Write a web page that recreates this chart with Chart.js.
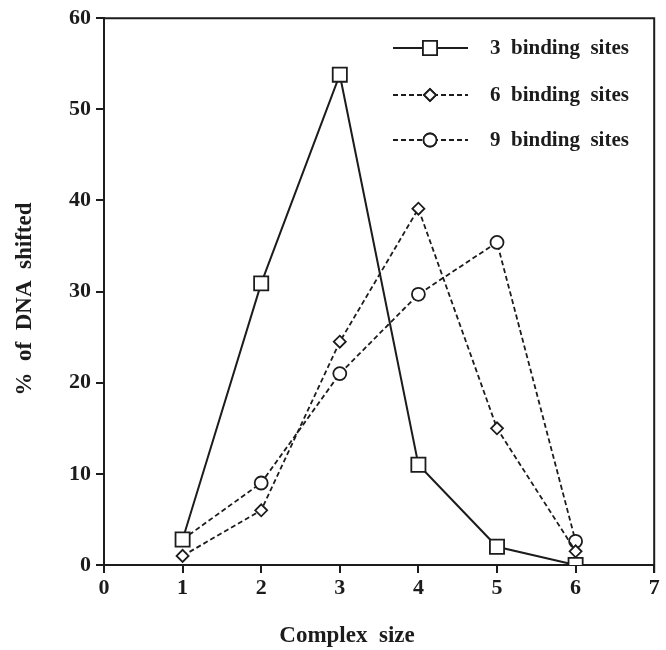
<!DOCTYPE html>
<html>
<head>
<meta charset="utf-8">
<script src="https://cdn.jsdelivr.net/npm/chart.js@4"></script>
<style>
  html, body { margin: 0; padding: 0; background: #fff; }
  #wrap { width: 666px; height: 650px; }
</style>
</head>
<body>
<div id="wrap"><canvas id="shiftChart"></canvas></div>
<script>
const complexSize = [1, 2, 3, 4, 5, 6];
const sites3 = [2.8, 30.9, 53.8, 11.0, 2.0, 0.0];
const sites6 = [1.0, 6.0, 24.5, 39.1, 15.0, 1.5];
const sites9 = [2.8, 9.0, 21.0, 29.7, 35.4, 2.6];
const seriesNames = ["3  binding  sites", "6  binding  sites", "9  binding  sites"];
const yTicks = [0, 10, 20, 30, 40, 50, 60];

const INK = "#1c1c1c";
const SERIF = "'Liberation Serif', 'Times New Roman', serif";

const toPoints = vals => vals.map((v, i) => ({ x: complexSize[i], y: v }));

const styles = [
  { pointStyle: "rect",    radius: 10,  dash: [],     width: 2 },
  { pointStyle: "rectRot", radius: 6,   dash: [5, 3], width: 1.8 },
  { pointStyle: "circle",  radius: 6.5, dash: [5, 3], width: 1.8 }
];

function dataset(label, vals, st) {
  return {
    label,
    data: toPoints(vals),
    borderColor: INK,
    borderWidth: st.width,
    borderDash: st.dash,
    tension: 0,
    pointStyle: st.pointStyle,
    pointRadius: st.radius,
    pointHoverRadius: st.radius,
    pointBackgroundColor: "#fff",
    pointBorderColor: INK,
    pointBorderWidth: 1.8
  };
}

// frame on top/right, axis titles and the boxed-in legend
const decorations = {
  id: "decorations",
  afterDraw(chart) {
    const { ctx, chartArea: a } = chart;
    ctx.save();
    ctx.strokeStyle = INK;
    ctx.lineWidth = 2;
    ctx.beginPath();
    ctx.moveTo(a.left, a.top);
    ctx.lineTo(a.right, a.top);
    ctx.lineTo(a.right, a.bottom + 8);
    ctx.stroke();

    ctx.fillStyle = INK;
    ctx.font = "bold 23px " + SERIF;
    ctx.textAlign = "center";
    ctx.textBaseline = "middle";
    ctx.fillText("Complex  size", 347, 636);

    ctx.save();
    ctx.translate(25, 299);
    ctx.rotate(-Math.PI / 2);
    ctx.fillText("%  of  DNA  shifted", 0, 0);
    ctx.restore();

    const rows = [48, 95, 140];
    ctx.font = "bold 21px " + SERIF;
    ctx.textAlign = "left";
    rows.forEach((y, i) => {
      const st = styles[i];
      ctx.setLineDash(st.dash);
      ctx.lineWidth = st.width;
      ctx.beginPath();
      ctx.moveTo(393, y);
      ctx.lineTo(468, y);
      ctx.stroke();
      ctx.setLineDash([]);
      ctx.fillStyle = "#fff";
      ctx.lineWidth = 1.8;
      Chart.helpers.drawPoint(ctx, { pointStyle: st.pointStyle, radius: st.radius, rotation: 0, borderWidth: 1.8 }, 430, y);
      ctx.fill();
      ctx.stroke();
      ctx.fillStyle = INK;
      ctx.fillText(seriesNames[i], 490, y + 1);
    });
    ctx.restore();
  }
};

new Chart(document.getElementById("shiftChart"), {
  type: "line",
  data: {
    datasets: [
      dataset(seriesNames[0], sites3, styles[0]),
      dataset(seriesNames[1], sites6, styles[1]),
      dataset(seriesNames[2], sites9, styles[2])
    ]
  },
  options: {
    responsive: true,
    maintainAspectRatio: false,
    animation: false,
    events: [],
    layout: { padding: { left: 0, right: 10, top: 17, bottom: 0 } },
    plugins: {
      legend: { display: false },
      tooltip: { enabled: false }
    },
    scales: {
      x: {
        type: "linear",
        min: 0,
        max: 7,
        afterFit: s => { s.height = 85; },
        afterBuildTicks: s => { s.ticks = [0, 1, 2, 3, 4, 5, 6, 7].map(v => ({ value: v })); },
        border: { display: true, color: INK, width: 2 },
        grid: { drawOnChartArea: false, drawTicks: true, tickLength: 8, color: INK, lineWidth: 2 },
        ticks: { color: INK, padding: 2, font: { family: SERIF, size: 22, weight: "bold" } }
      },
      y: {
        min: 0,
        max: 60,
        afterFit: s => { s.width = 104; },
        afterBuildTicks: s => { s.ticks = yTicks.map(v => ({ value: v })); },
        border: { display: true, color: INK, width: 2 },
        grid: { drawOnChartArea: false, drawTicks: true, tickLength: 8, color: INK, lineWidth: 2 },
        ticks: { color: INK, padding: 5, font: { family: SERIF, size: 22, weight: "bold" } }
      }
    }
  },
  plugins: [decorations]
});
</script>
</body>
</html>
